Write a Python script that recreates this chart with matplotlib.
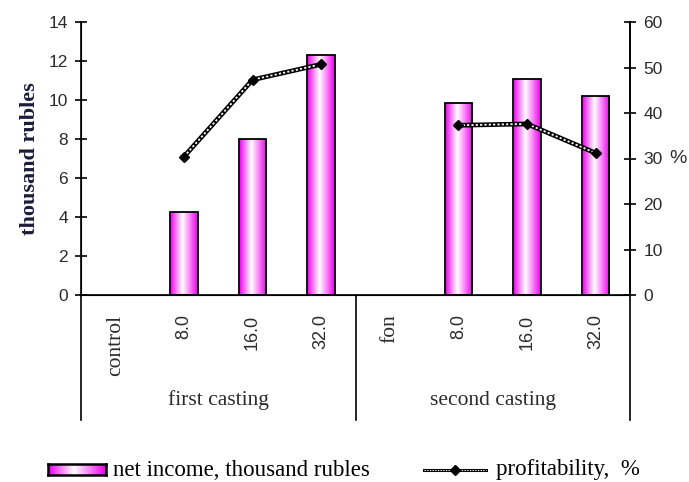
import numpy as np
import matplotlib
matplotlib.use("Agg")
import matplotlib.pyplot as plt
from matplotlib.colors import LinearSegmentedColormap
from matplotlib.lines import Line2D

# categories along the x axis, two castings of four variants each
categories = ["control", "8.0", "16.0", "32.0", "fon", "8.0", "16.0", "32.0"]
groups = ["first casting", "second casting"]
# net income, thousand rubles (no bar for control / fon)
income = [np.nan, 4.25, 8.0, 12.3, np.nan, 9.85, 11.1, 10.2]
# profitability, %
profit = [np.nan, 30.4, 47.3, 50.7, np.nan, 37.3, 37.6, 31.2]

SERIF = "Liberation Serif"
SANS = "Liberation Sans"
TXT = "#2b2b2b"

grad = LinearSegmentedColormap.from_list(
    "pinkbar", [(0.0, "#ee00ee"), (0.45, "#ffffff"), (1.0, "#ee00ee")])
gradient = np.linspace(0, 1, 64).reshape(1, -1)


def chain_line(ax, x, y, **kw):
    # black outline with white dots on top gives the chain look
    ax.plot(x, y, color="black", lw=3.4, solid_capstyle="round", **kw)
    ax.plot(x, y, color="white", lw=1.3, ls=(0, (1.2, 1.2)), **kw)


fig = plt.figure(figsize=(6.89, 4.82), dpi=100)
ax = fig.add_axes([81 / 689, 187 / 482, 549 / 689, 273 / 482])
x = np.arange(len(categories))

bars = ax.bar(x, income, width=0.4, facecolor="none", edgecolor="black",
              lw=1.3, zorder=3)
for rect, val in zip(bars, income):
    if np.isnan(val):
        continue
    x0 = rect.get_x()
    im = ax.imshow(gradient, cmap=grad, aspect="auto", zorder=2,
                   extent=(x0, x0 + rect.get_width(), 0, val))
    im.set_clip_path(rect)

ax.set_xlim(-0.5, len(categories) - 0.5)
ax.set_ylim(0, 14)
ax.set_yticks(range(0, 15, 2))
ax.spines["top"].set_visible(False)
for s in ("left", "right", "bottom"):
    ax.spines[s].set_linewidth(1.2)
ax.tick_params(axis="y", direction="inout", length=9, width=1.2,
               labelsize=12.5, labelcolor=TXT, pad=5)
ax.set_yticklabels([str(v) for v in range(0, 15, 2)], family=SANS)
ax.set_ylabel("thousand rubles", family=SERIF, fontweight="bold",
              fontsize=16, color="#1c1c3a", labelpad=6)

ax.set_xticks(x)
ax.set_xticklabels(categories, rotation=90, fontsize=15.5, color=TXT)
for lbl in ax.get_xticklabels():
    if lbl.get_text()[0].isdigit():
        lbl.set_family(SANS)
        lbl.set_fontsize(13)
    else:
        lbl.set_family(SERIF)
ax.tick_params(axis="x", length=0, pad=14)

# group separators below the axis
tr = ax.get_xaxis_transform()
for xv in (-0.5, 3.5, 7.5):
    ax.plot([xv, xv], [0, -0.458], color="black", lw=1.2, transform=tr,
            clip_on=False)
for i, g in enumerate(groups):
    ax.text(1.5 + 4 * i, -0.385, g, transform=tr, ha="center", va="center",
            family=SERIF, fontsize=15.5, color=TXT)

ax2 = ax.twinx()
ax2.set_ylim(0, 60)
ax2.set_yticks(range(0, 61, 10))
ax2.set_yticklabels([str(v) for v in range(0, 61, 10)], family=SANS)
ax2.tick_params(axis="y", direction="inout", length=9, width=1.2,
                labelsize=12.5, labelcolor=TXT, pad=5)
ax2.spines["top"].set_visible(False)
ax2.spines["right"].set_linewidth(1.2)
chain_line(ax2, x, profit, zorder=4)
ax2.plot(x, profit, ls="none", marker="D", ms=5, color="black", zorder=5)
ax2.text(1.087, 30, "%", transform=ax2.get_yaxis_transform(), ha="center",
         va="center", family=SANS, fontsize=14, color=TXT)

# legend drawn by hand along the bottom edge
lax = fig.add_axes([48 / 689, 7 / 482, 58 / 689, 11 / 482])
lax.imshow(gradient, cmap=grad, aspect="auto")
lax.set_xticks([])
lax.set_yticks([])
for s in lax.spines.values():
    s.set_linewidth(1.8)
fig.text(113 / 689, 12 / 482, "net income, thousand rubles", family=SERIF,
         fontsize=16.5, va="center", ha="left", color="black")
lx = np.array([424, 486]) / 689
ly = np.array([12, 12]) / 482
fig.add_artist(Line2D(lx, ly, color="black", lw=2.2, transform=fig.transFigure))
fig.add_artist(Line2D(lx, ly, color="white", lw=0.8, ls=(0, (1.2, 1.2)),
                      transform=fig.transFigure))
fig.add_artist(Line2D([lx.mean()], [ly[0]], ls="none", marker="D", ms=5,
                      color="black", transform=fig.transFigure))
fig.text(496 / 689, 12 / 482, "profitability,  %", family=SERIF,
         fontsize=16.5, va="center", ha="left", color="black")

fig.savefig("out.png", dpi=100)
